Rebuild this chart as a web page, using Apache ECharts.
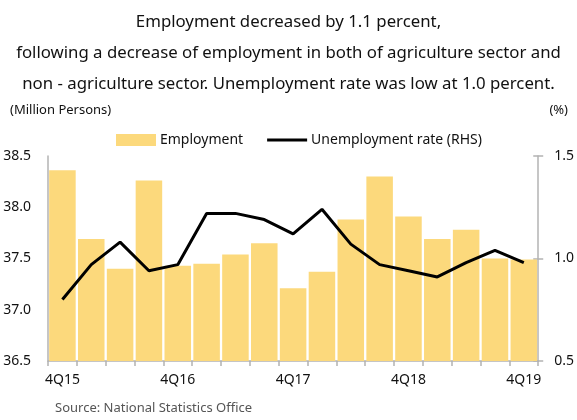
<!DOCTYPE html>
<html><head><meta charset="utf-8">
<script src="https://cdn.jsdelivr.net/npm/echarts@6/dist/echarts.min.js"></script>
<style>html,body{margin:0;padding:0;background:#fff}#c{width:577px;height:420px}</style>
</head><body><div id="c"></div>
<script>
const categories = ['4Q15','1Q16','2Q16','3Q16','4Q16','1Q17','2Q17','3Q17','4Q17','1Q18','2Q18','3Q18','4Q18','1Q19','2Q19','3Q19','4Q19'];
const employment = [38.36,37.69,37.40,38.26,37.43,37.45,37.54,37.65,37.21,37.37,37.88,38.30,37.91,37.69,37.78,37.50,37.49];
const unemploymentRate = [0.80,0.97,1.08,0.94,0.97,1.22,1.22,1.19,1.12,1.24,1.07,0.97,0.94,0.91,0.98,1.04,0.98];
const leftTicks = [36.5,37.0,37.5,38.0,38.5];
const rightTicks = [0.5,1.0,1.5];
const titleLines = ['Employment decreased by 1.1 percent,','following a decrease of employment in both of agriculture sector and','non - agriculture sector. Unemployment rate was low at 1.0 percent.'];

const FONT = 'Noto Sans';
const chart = echarts.init(document.getElementById('c'), null, {renderer:'canvas'});
const axisCol = '#b3b3b3';
chart.setOption({
  animation:false,
  textStyle:{fontFamily:FONT},
  title:{
    text: titleLines.join('\n'),
    left:'center', top:2,
    textStyle:{fontFamily:FONT, fontSize:16.8, fontWeight:'normal', color:'#111', lineHeight:31}
  },
  graphic:[
    {type:'text', left:10, top:104, style:{text:'(Million Persons)', font:'13px "Noto Sans"', fill:'#111'}},
    {type:'text', right:9, top:104, style:{text:'(%)', font:'13px "Noto Sans"', fill:'#111'}},
    {type:'text', left:55, top:402, style:{text:'Source: National Statistics Office', font:'13px "Noto Sans"', fill:'#555'}}
  ],
  legend:{
    top:133, left:116, padding:0, itemWidth:40, itemHeight:12, itemGap:24,
    textStyle:{fontFamily:FONT, fontSize:14, color:'#111', padding:[0,0,0,-1]},
    data:[{name:'Employment', icon:'rect'},{name:'Unemployment rate (RHS)', icon:'path://M0,0 L40,0 L40,3 L0,3 Z', itemStyle:{color:'#000'}}]
  },
  grid:{left:48, right:35, top:156, bottom:59, containLabel:false},
  xAxis:{
    type:'category', data:categories, boundaryGap:true,
    axisLine:{lineStyle:{color:axisCol, width:1.5}},
    axisTick:{show:true, interval:0, length:5, lineStyle:{color:axisCol, width:1.5}},
    axisLabel:{interval:3, color:'#111', fontSize:14, fontFamily:FONT, margin:12}
  },
  yAxis:[
    {type:'value', min:36.5, max:38.5, interval:0.5, position:'left',
     axisLine:{show:true, lineStyle:{color:axisCol, width:1.5}},
     axisTick:{show:false}, splitLine:{show:false},
     axisLabel:{color:'#111', fontSize:14, fontFamily:FONT, margin:17, formatter:v=>v.toFixed(1)}},
    {type:'value', min:0.5, max:1.5, interval:0.5, position:'right',
     axisLine:{show:true, lineStyle:{color:axisCol, width:1.5}},
     axisTick:{show:true, length:5, lineStyle:{color:axisCol, width:1.5}}, splitLine:{show:false},
     axisLabel:{color:'#111', fontSize:14, fontFamily:FONT, margin:16, formatter:v=>v.toFixed(1)}},
    {type:'value', min:0.5, max:1.5, interval:0.5, position:'right',
     axisLine:{show:false}, axisLabel:{show:false}, splitLine:{show:false},
     axisTick:{show:true, inside:true, length:5, lineStyle:{color:axisCol, width:1.5}}}
  ],
  series:[
    {name:'Employment', type:'bar', data:employment, yAxisIndex:0, barCategoryGap:'8%',
     itemStyle:{color:'#FCD97C'}},
    {name:'Unemployment rate (RHS)', type:'line', data:unemploymentRate, yAxisIndex:1,
     symbol:'none', lineStyle:{color:'#000', width:3}, itemStyle:{color:'#000'}}
  ]
});
</script></body></html>
